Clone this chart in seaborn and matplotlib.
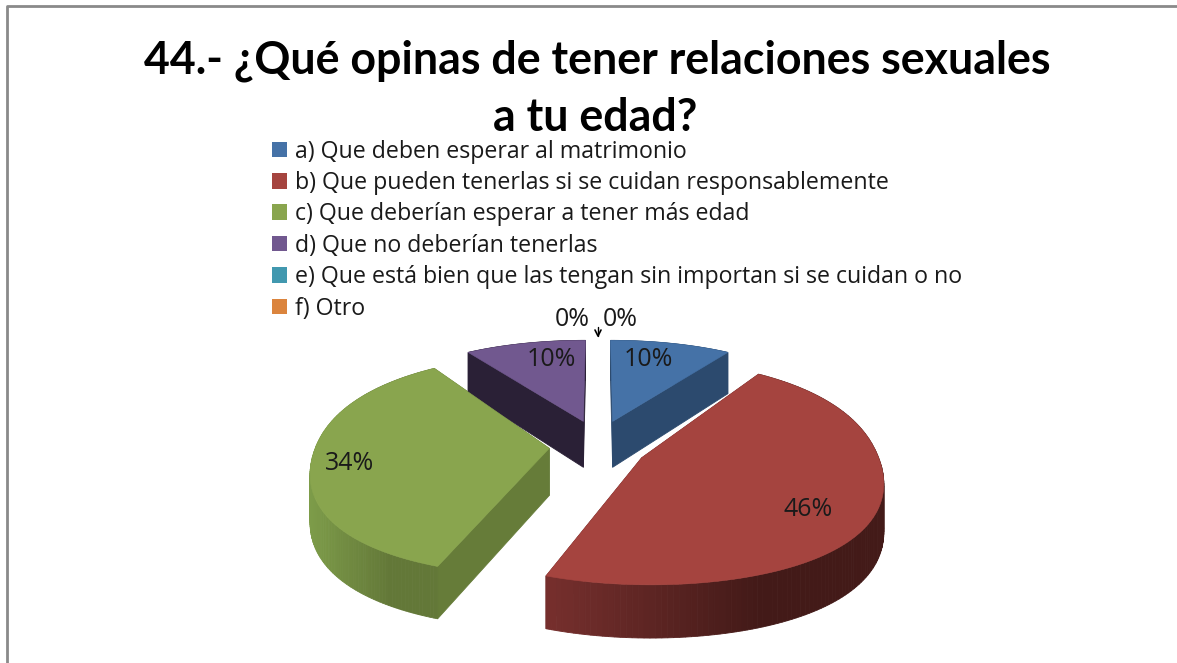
import numpy as np
import matplotlib
matplotlib.use("Agg")
import matplotlib.pyplot as plt
from matplotlib.patches import Patch
from matplotlib.lines import Line2D
import seaborn as sns

# ---- data ----
categories = [
    "a) Que deben esperar al matrimonio",
    "b) Que pueden tenerlas si se cuidan responsablemente",
    "c) Que deberían esperar a tener más edad",
    "d) Que no deberían tenerlas",
    "e) Que está bien que las tengan sin importan si se cuidan o no",
    "f) Otro",
]
shares = [10, 46, 34, 10, 0, 0]
title_lines = ["44.- ¿Qué opinas de tener relaciones sexuales", "a tu edad?"]
top_colors = ["#4572A7", "#A5443F", "#89A54E", "#71588F", "#4198AF", "#DB843D"]
wall_colors = ["#2C4A6E", "#6F2C2C", "#667C39", "#2A2036", "#2A6070", "#8F5628"]
arc_light = ["#2C4A6E", "#762F2D", "#7D9C49", "#2A2036", "#2A6070", "#8F5628"]
arc_dark = ["#2C4A6E", "#431A18", "#637838", "#2A2036", "#2A6070", "#8F5628"]

# ---- style ----
sns.set_theme(style="white")
plt.rcParams["font.family"] = ["Lato", "DejaVu Sans"]
palette = sns.color_palette(top_colors)

W, H = 1177, 663
fig = plt.figure(figsize=(W / 100, H / 100), dpi=100, facecolor="white")

# helper pie supplies the wedge angles and the exploded centres
pie_ax = fig.add_axes([0, 0, 0.01, 0.01])
wedges, _ = pie_ax.pie(shares, explode=[0.21] * len(shares), startangle=90,
                       counterclock=False, radius=1.0)
pie_ax.set_visible(False)

ax = fig.add_axes([0, 0, 1, 1])
ax.set_xlim(0, W)
ax.set_ylim(H, 0)
ax.set_axis_off()

# tilted-disk projection
CX, CY, RX, RY, KX, KY, DEPTH = 598, 445, 233, 127, 0.17, 0.38, 47


def project(u, v, z=0.0):
    sx = 1 / (1 + KX * v)
    sy = 1 / (1 + KY * np.maximum(v, 0))
    x = CX + RX * u * sx
    y = CY - RY * v * sy + z * DEPTH * (1 - 0.12 * v)
    return x, y


def blend(c1, c2, t):
    a = np.array(matplotlib.colors.to_rgb(c1))
    b = np.array(matplotlib.colors.to_rgb(c2))
    return tuple(a + (b - a) * t)


order = [i for i in range(len(shares)) if shares[i] > 0]
for i in order:
    w = wedges[i]
    cu, cv = w.center
    th = np.radians(np.linspace(w.theta1, w.theta2, 140))
    au = cu + w.r * np.cos(th)
    av = cv + w.r * np.sin(th)
    # radial walls, then curved wall in small shaded quads
    for ex, ey in ((au[0], av[0]), (au[-1], av[-1])):
        xa, ya = project(cu, cv)
        xb, yb = project(ex, ey)
        xc, yc = project(ex, ey, 1)
        xd, yd = project(cu, cv, 1)
        ax.fill([xa, xb, xc, xd], [ya, yb, yc, yd], color=wall_colors[i], lw=0.6, zorder=2 + i * 0.01)
    xs_all = project(au, av)[0]
    for k in range(len(th) - 1):
        x0, y0 = project(au[k], av[k])
        x1, y1 = project(au[k + 1], av[k + 1])
        x2, y2 = project(au[k + 1], av[k + 1], 1)
        x3, y3 = project(au[k], av[k], 1)
        t = np.clip((x0 - xs_all.min()) / max(np.ptp(xs_all) * 0.62, 1), 0, 1)
        ax.fill([x0, x1, x2, x3], [y0, y1, y2, y3], color=blend(arc_light[i], arc_dark[i], t),
                lw=0.6, zorder=3)
    # top face
    px, py = project(np.r_[cu, au], np.r_[cv, av])
    ax.fill(px, py, color=palette[i], lw=0.4, zorder=4)

# percentage labels
label_xy = [(648, 359), (808, 510), (350, 463), (551, 359), (572, 319), (620, 319)]
for share, (lx, ly) in zip(shares, label_xy):
    ax.text(lx, ly, f"{share}%", ha="center", va="center", fontsize=18, color="#1a1a1a", zorder=6,
            family=["Open Sans"])
ax.plot([598, 598], [327, 336], color="black", lw=1, zorder=6)
ax.plot([595, 598, 601], [330, 336, 330], color="black", lw=1.2, zorder=6)

# title
ax.text(597, 61, title_lines[0], ha="center", va="center", fontsize=32.2, fontweight="bold", color="black")
ax.text(595, 118, title_lines[1], ha="center", va="center", fontsize=32.2, fontweight="bold", color="black")

# legend
handles = [Patch(facecolor=c, edgecolor="none") for c in palette]
ax.legend(handles, categories, loc="upper left", bbox_to_anchor=(272 / W, 1 - 139.5 / H),
          bbox_transform=fig.transFigure, frameon=False, labelspacing=0.32,
          handlelength=0.65, handleheight=0.65, handletextpad=0.35, borderpad=0, borderaxespad=0,
          labelcolor="#1a1a1a", prop={"family": ["Open Sans"], "size": 16.7})

# slide frame: top and left edges only
ax.add_line(Line2D([7, 7, W], [H, 6, 6], color="#8a8a8a", lw=2, zorder=1))

fig.savefig("out.png", dpi=100)
